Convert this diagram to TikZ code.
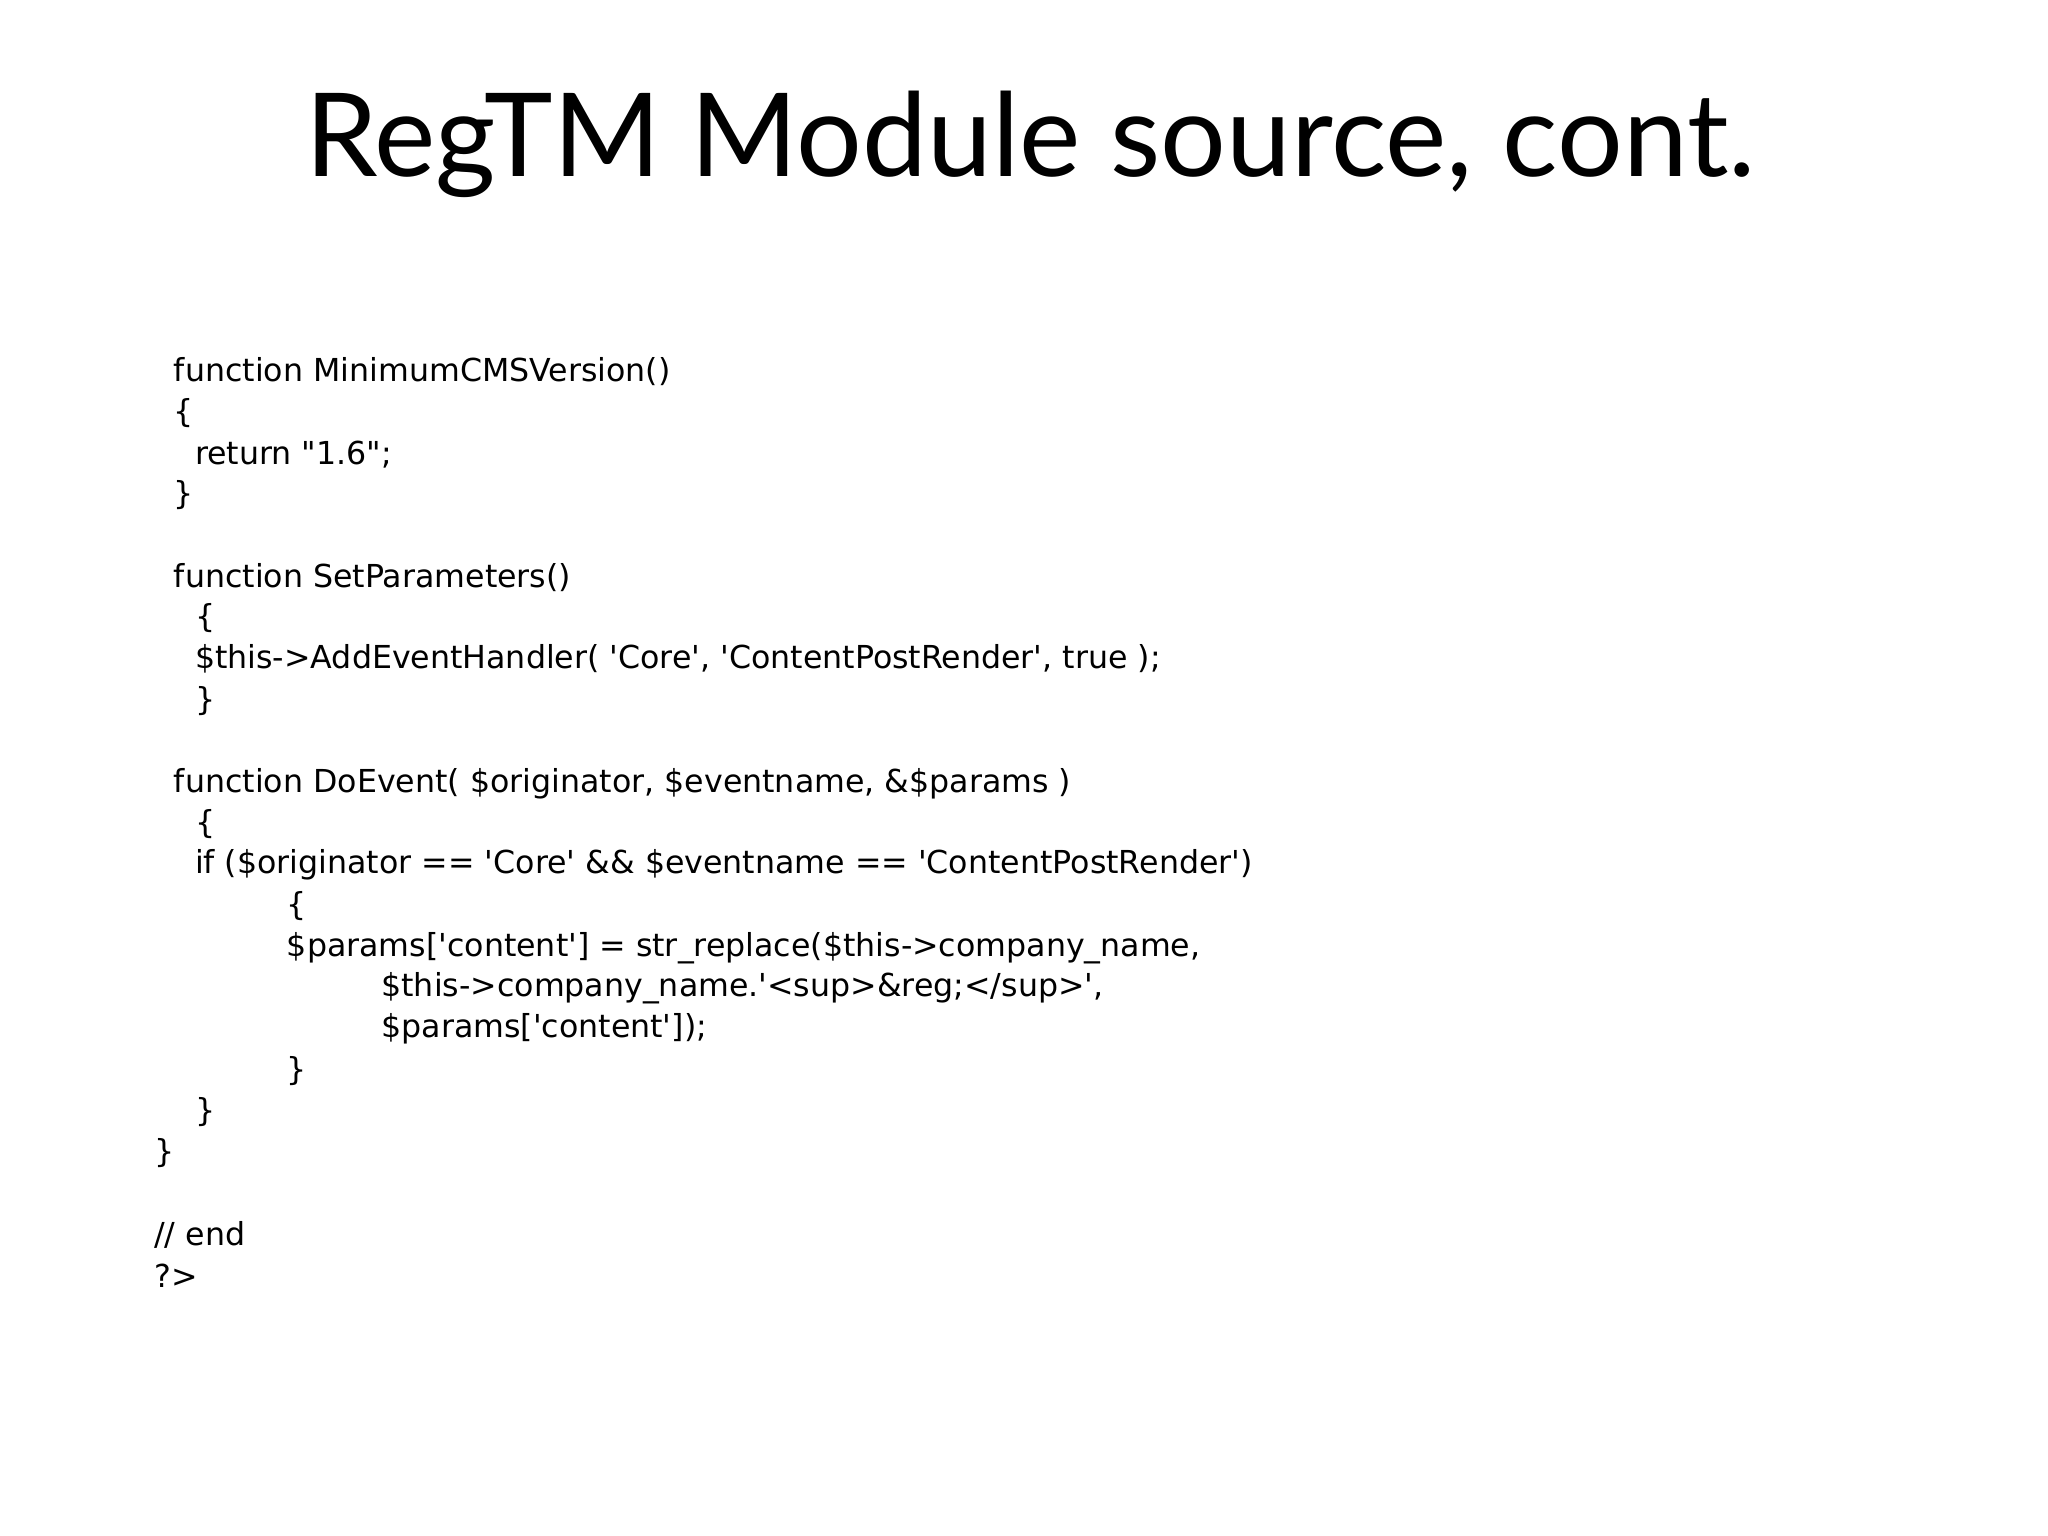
\documentclass[tikz,border=0pt]{standalone}
\usepackage{fontspec}
\newfontfamily\titlefont{Lato}
\newfontfamily\codefont{DejaVu Sans}
\tikzset{
  code/.style={anchor=west, inner sep=0pt, font=\codefont\fontsize{9}{11}\selectfont},
  heading/.style={inner sep=0pt, font=\titlefont\fontsize{33}{38}\selectfont}
}
\begin{document}
\begin{tikzpicture}[x=0.013128cm, y=-0.013128cm]
    \useasboundingbox (0,0) rectangle (1560,1170);
    \node[heading] (title) at (785,110) {RegTM Module source, cont.};
    % version
    \node[code] (l1) at (132,283) {function MinimumCMSVersion()};
    \node[code] (l2) at (132,315) {\{};
    \node[code] (l3) at (148,346) {return "1.6";};
    \node[code] (l4) at (132,377) {\}};
    % parameters
    \node[code] (l5) at (132,440) {function SetParameters()};
    \node[code] (l6) at (148,471) {\{};
    \node[code] (l7) at (148,502) {\$this->AddEventHandler( 'Core', 'ContentPostRender', true );};
    \node[code] (l8) at (148,534) {\}};
    % event
    \node[code] (l9) at (132,597) {function DoEvent( \$originator, \$eventname, \&\$params )};
    \node[code] (l10) at (148,628) {\{};
    \node[code] (l11) at (148,659) {if (\$originator == 'Core' \&\& \$eventname == 'ContentPostRender')};
    \node[code] (l12) at (218,690) {\{};
    \node[code] (l13) at (218,722) {\$params['content'] = str\_replace(\$this->company\_name,};
    \node[code] (l14) at (290,753) {\$this->company\_name.'<sup>\&reg;</sup>',};
    \node[code] (l15) at (290,784) {\$params['content']);};
    \node[code] (l16) at (218,816) {\}};
    \node[code] (l17) at (148,847) {\}};
    \node[code] (l18) at (117,878) {\}};
    \node[code] (l19) at (117,941) {// end};
    \node[code] (l20) at (117,972) {?>};
\end{tikzpicture}
\end{document}
